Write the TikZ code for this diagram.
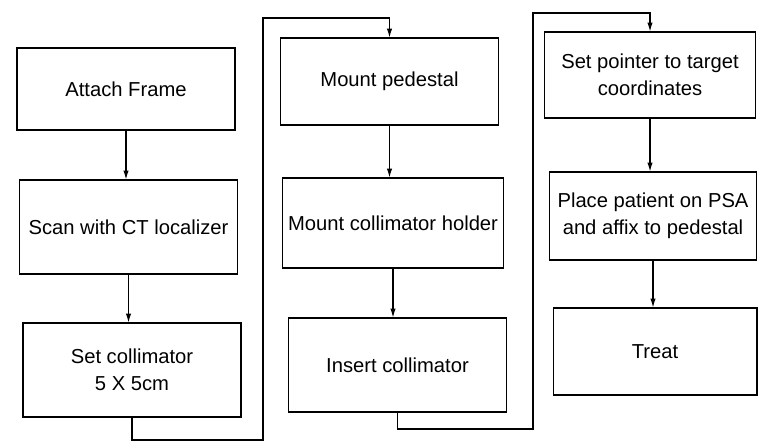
\documentclass[tikz,border=0pt]{standalone}
\usepackage{fontspec}
\setmainfont{Liberation Sans}
\usetikzlibrary{arrows.meta}
\begin{document}
\begin{tikzpicture}[x=0.02cm, y=-0.02cm, >={Latex[length=5pt,width=3pt]},
  line width=0.6pt,
  stepbox/.style={draw, line width=0.6pt, align=center, minimum width=4.36cm, minimum height=1.8cm,
    font=\fontsize{11.5}{15.5}\selectfont}]
\useasboundingbox (0,0) rectangle (759,444);
% first column
\node[stepbox, minimum height=1.64cm] (attach) at (126,89) {Attach Frame};
\node[stepbox, minimum height=1.88cm] (scan) at (128.5,227) {Scan with CT localizer};
\node[stepbox, minimum height=1.88cm] (setcol) at (132,370) {Set collimator\\5 X 5cm};
% second column
\node[stepbox, minimum height=1.74cm] (pedestal) at (389.5,81.5) {Mount pedestal};
\node[stepbox] (holder) at (393,223) {Mount collimator holder};
\node[stepbox, minimum height=1.88cm] (insert) at (397.5,365) {Insert collimator};
% third column
\node[stepbox, minimum width=4.22cm, minimum height=1.72cm] (pointer) at (650,75) {Set pointer to target\\coordinates};
\node[stepbox, minimum width=4.14cm, minimum height=1.76cm] (patient) at (653,216) {Place patient on PSA\\and affix to pedestal};
\node[stepbox, minimum width=4.08cm, minimum height=1.74cm] (treat) at (655,351.5) {Treat};
% links between columns
\coordinate (lowA) at (263,440);
\coordinate (topA) at (263,18);
\coordinate (lowB) at (533,429);
\coordinate (topB) at (533,13);
\draw[->] (attach.south) -- (attach.south |- scan.north);
\draw[->] (scan.south) -- (scan.south |- setcol.north);
\draw[->] (setcol.south) |- (lowA) -- (topA) -| (pedestal.north);
\draw[->] (pedestal.south) -- (pedestal.south |- holder.north);
\draw[->] (holder.south) -- (holder.south |- insert.north);
\draw[->] (insert.south) |- (lowB) -- (topB) -| (pointer.north);
\draw[->] (pointer.south) -- (pointer.south |- patient.north);
\draw[->] (patient.south) -- (patient.south |- treat.north);
\end{tikzpicture}
\end{document}
